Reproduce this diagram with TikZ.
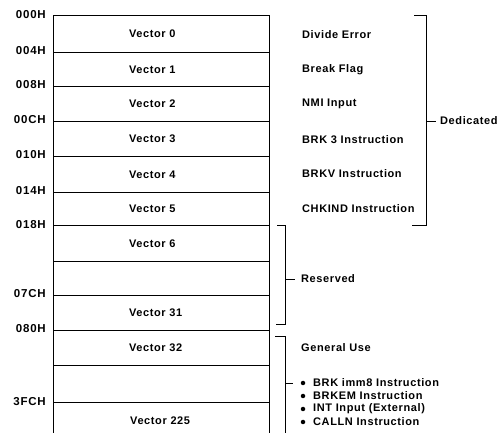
\documentclass[tikz,border=0pt]{standalone}
\usepackage{fontspec}
\setmainfont[LetterSpace=5.5]{Liberation Sans}
\begin{document}
\begin{tikzpicture}[x=1pt,y=-1pt,
  every node/.style={font=\fontsize{11}{13}\selectfont\bfseries, inner sep=0pt},
  row/.style={draw, line width=0.9pt, text width=64pt, inner xsep=76pt, align=left, anchor=north},
  addr/.style={anchor=east, font=\fontsize{11.5}{13}\selectfont\bfseries\addfontfeature{LetterSpace=7}},
  desc/.style={anchor=west},
  dot/.style={circle, fill, minimum size=4.5pt},
  brk/.style={line width=0.8pt}]
\useasboundingbox (0,0) rectangle (499,433);
\clip (0,0) rectangle (499,433);
% rows
\node[row, minimum height=37pt] (r0) at (161,15) {Vector 0};
\node[row, minimum height=34pt] (r1) at (161,52) {Vector 1};
\node[row, minimum height=35pt] (r2) at (161,86) {Vector 2};
\node[row, minimum height=35pt] (r3) at (161,121) {Vector 3};
\node[row, minimum height=36pt] (r4) at (161,156) {Vector 4};
\node[row, minimum height=33pt] (r5) at (161,192) {Vector 5};
\node[row, minimum height=36pt] (r6) at (161,225) {Vector 6};
\node[row, minimum height=34pt] (r7) at (161,261) {};
\node[row, minimum height=35pt] (r8) at (161,295) {Vector 31};
\node[row, minimum height=35pt] (r9) at (161,330) {Vector 32};
\node[row, minimum height=37pt] (r10) at (161,365) {};
\node[row, minimum height=40pt] (r11) at (161,402) {};
\node[anchor=west] (v225) at (130,421) {Vector 225};
% addresses
\node[addr] (a0) at (46,15) {000H};
\node[addr] (a1) at (46,51) {004H};
\node[addr] (a2) at (46,85) {008H};
\node[addr] (a3) at (46,120) {00CH};
\node[addr] (a4) at (46,155) {010H};
\node[addr] (a5) at (46,191) {014H};
\node[addr] (a6) at (46,225) {018H};
\node[addr] (a7) at (46,294) {07CH};
\node[addr] (a8) at (46,329) {080H};
\node[addr] (a9) at (46,402) {3FCH};
% descriptions
\node[desc] (d0) at (302,35) {Divide Error};
\node[desc] (d1) at (302,70) {Break Flag};
\node[desc] (d2) at (302,104) {NMI Input};
\node[desc] (d3) at (302,140) {BRK 3 Instruction};
\node[desc] (d4) at (302,174) {BRKV Instruction};
\node[desc] (d5) at (302,209) {CHKIND Instruction};
% Dedicated bracket
\draw[brk] (414,15) -- (426,15) -- (426,225) -- (412,225);
\coordinate (dm) at (426,121);
\node[desc] (ded) at (440,121) {Dedicated};
\draw[brk] (dm) -- ++(10,0);
% Reserved bracket
\draw[brk] (277,225) -- (285,225) -- (285,324) -- (276,324);
\coordinate (rm) at (285,279);
\node[desc] (res) at (301,279) {Reserved};
\draw[brk] (rm) -- ++(10,0);
% General use bracket
\draw[brk] (275,336) -- (285,336) -- (285,440);
\node[desc] (gen) at (301,348) {General Use};
\coordinate (gm) at (285,383);
\draw[brk] (gm) -- ++(8,0);
\node[dot] (b0) at (303,383) {};
\node[dot] (b1) at (303,396) {};
\node[dot] (b2) at (303,409) {};
\node[dot] (b3) at (303,422) {};
\node[desc] (g0) at (313,383) {BRK imm8 Instruction};
\node[desc] (g1) at (313,396) {BRKEM Instruction};
\node[desc] (g2) at (313,409) {INT Input (External)};
\node[desc] (g3) at (313,422) {CALLN Instruction};
\end{tikzpicture}
\end{document}
